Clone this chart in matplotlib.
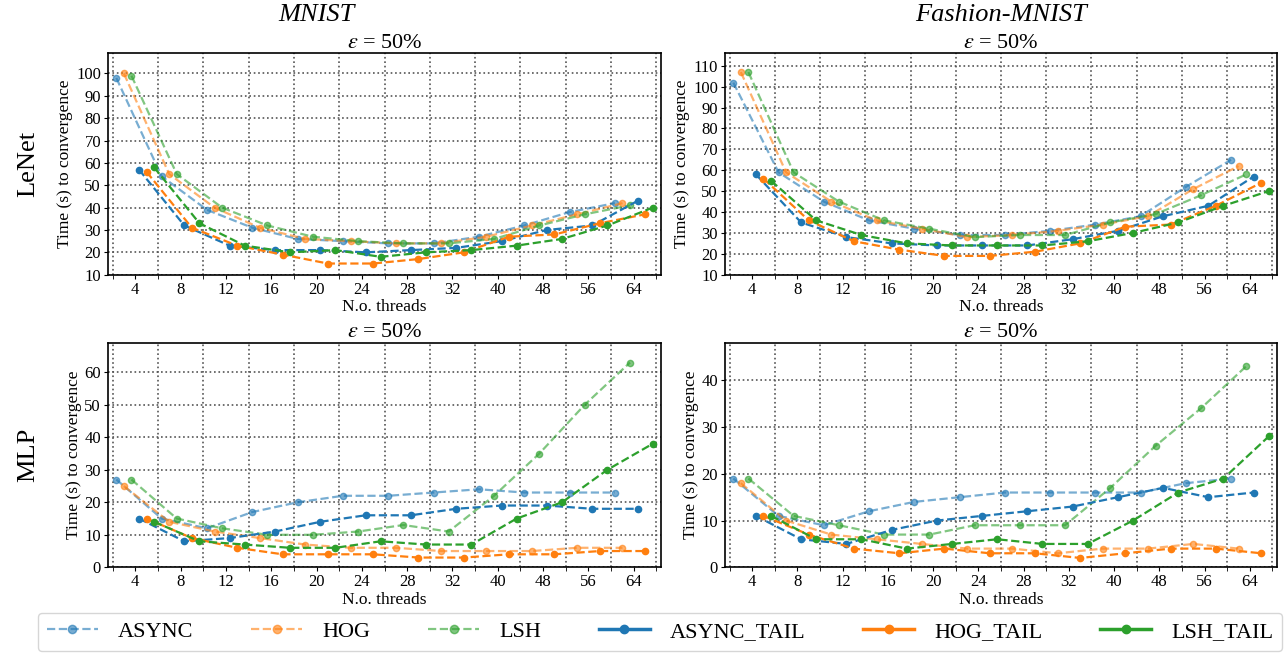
import matplotlib
matplotlib.use("Agg")
import matplotlib.pyplot as plt
from matplotlib.lines import Line2D
import numpy as np

plt.rcParams['font.family'] = ['Liberation Serif', 'DejaVu Serif']
plt.rcParams['mathtext.fontset'] = 'stix'

threads = ['4', '8', '12', '16', '20', '24', '28', '32', '40', '48', '56', '64']
series_names = ['ASYNC', 'HOG', 'LSH', 'ASYNC_TAIL', 'HOG_TAIL', 'LSH_TAIL']

# MNIST / LeNet
mnist_lenet_async = [98, 54, 39, 31, 26, 25, 24, 24, 27, 32, 38, 42]
mnist_lenet_hog = [100, 55, 40, 31, 26, 25, 24, 24, 27, 32, 37, 42]
mnist_lenet_lsh = [99, 55, 40, 32, 27, 25, 24, 24, 26, 32, 37, 41]
mnist_lenet_async_tail = [57, 32, 23, 21, 21, 20, 21, 22, 25, 30, 32, 43]
mnist_lenet_hog_tail = [56, 31, 23, 19, 15, 15, 17, 20, 27, 28, 33, 37]
mnist_lenet_lsh_tail = [58, 33, 23, 20, 21, 18, 20, 21, 23, 26, 32, 40]

# Fashion-MNIST / LeNet
fashion_lenet_async = [102, 59, 45, 36, 32, 29, 29, 31, 34, 38, 52, 65]
fashion_lenet_hog = [107, 59, 45, 36, 32, 28, 29, 31, 34, 38, 51, 62]
fashion_lenet_lsh = [107, 59, 45, 36, 32, 28, 29, 29, 35, 39, 48, 58]
fashion_lenet_async_tail = [58, 35, 28, 25, 24, 24, 24, 27, 31, 38, 43, 57]
fashion_lenet_hog_tail = [56, 36, 26, 22, 19, 19, 21, 25, 33, 34, 43, 54]
fashion_lenet_lsh_tail = [55, 36, 29, 25, 24, 24, 24, 26, 30, 35, 43, 50]

# MNIST / MLP
mnist_mlp_async = [27, 15, 12, 17, 20, 22, 22, 23, 24, 23, 23, 23]
mnist_mlp_hog = [25, 14, 11, 9, 7, 6, 6, 5, 5, 5, 6, 6]
mnist_mlp_lsh = [27, 15, 12, 10, 10, 11, 13, 11, 22, 35, 50, 63]
mnist_mlp_async_tail = [15, 8, 9, 11, 14, 16, 16, 18, 19, 19, 18, 18]
mnist_mlp_hog_tail = [15, 9, 6, 4, 4, 4, 3, 3, 4, 4, 5, 5]
mnist_mlp_lsh_tail = [14, 8, 7, 6, 6, 8, 7, 7, 15, 20, 30, 38]

# Fashion-MNIST / MLP
fashion_mlp_async = [19, 11, 9, 12, 14, 15, 16, 16, 16, 16, 18, 19]
fashion_mlp_hog = [18, 10, 7, 6, 5, 4, 4, 3, 4, 4, 5, 4]
fashion_mlp_lsh = [19, 11, 9, 7, 7, 9, 9, 9, 17, 26, 34, 43]
fashion_mlp_async_tail = [11, 6, 5, 8, 10, 11, 12, 13, 15, 17, 15, 16]
fashion_mlp_hog_tail = [11, 7, 4, 3, 4, 3, 3, 2, 3, 4, 4, 3]
fashion_mlp_lsh_tail = [11, 6, 6, 4, 5, 6, 5, 5, 10, 16, 19, 28]

panels = [
    [mnist_lenet_async, mnist_lenet_hog, mnist_lenet_lsh,
     mnist_lenet_async_tail, mnist_lenet_hog_tail, mnist_lenet_lsh_tail],
    [fashion_lenet_async, fashion_lenet_hog, fashion_lenet_lsh,
     fashion_lenet_async_tail, fashion_lenet_hog_tail, fashion_lenet_lsh_tail],
    [mnist_mlp_async, mnist_mlp_hog, mnist_mlp_lsh,
     mnist_mlp_async_tail, mnist_mlp_hog_tail, mnist_mlp_lsh_tail],
    [fashion_mlp_async, fashion_mlp_hog, fashion_mlp_lsh,
     fashion_mlp_async_tail, fashion_mlp_hog_tail, fashion_mlp_lsh_tail],
]
ylims = [(10, 109), (10, 116), (0, 69), (0, 48)]
yticks = [np.arange(10, 101, 10), np.arange(10, 111, 10),
          np.arange(0, 61, 10), np.arange(0, 41, 10)]

colors = ['#1f77b4', '#ff7f0e', '#2ca02c', '#1f77b4', '#ff7f0e', '#2ca02c']
alphas = [0.6, 0.6, 0.6, 1.0, 1.0, 1.0]
offsets = (np.arange(6) - 2.5) / 6.0

W, H = 1288, 655
fig = plt.figure(figsize=(W / 100, H / 100), dpi=100)

lefts = [108, 725]
rights = [661, 1277]
tops = [53.3, 343]
bottoms = [274.7, 567.3]

x = np.arange(len(threads))
for i in range(4):
    r, c = divmod(i, 2)
    ax = fig.add_axes([lefts[c] / W, 1 - bottoms[r] / H,
                       (rights[c] - lefts[c]) / W, (bottoms[r] - tops[r]) / H])
    for k in range(6):
        ax.plot(x + offsets[k], panels[i][k], linestyle='--', marker='o',
                color=colors[k], alpha=alphas[k], lw=1.6, markersize=4.5,
                zorder=3 + k)
    ax.set_xlim(-0.6, len(threads) - 0.4)
    ax.set_ylim(*ylims[i])
    ax.set_xticks(x)
    ax.set_xticklabels(threads)
    ax.set_xticks(np.arange(-0.5, len(threads), 1.0), minor=True)
    ax.set_yticks(yticks[i])
    ax.grid(True, which='minor', axis='x', linestyle=':', color='#555555', lw=1.2)
    ax.grid(True, which='major', axis='y', linestyle=':', color='#555555', lw=1.2)
    ax.tick_params(axis='both', which='major', labelsize=12, length=3, pad=2)
    ax.tick_params(axis='x', which='minor', length=3)
    ax.set_xlabel('N.o. threads', fontsize=12.5, labelpad=1)
    ax.set_ylabel('Time (s) to convergence', fontsize=12.5, labelpad=2)
    ax.set_title(r'$\epsilon$ = 50%', fontsize=16, pad=4)
    for s in ax.spines.values():
        s.set_linewidth(1.2)

fig.text(316 / W, 1 - 15 / H, 'MNIST', fontsize=19, style='italic',
         ha='center', va='center')
fig.text(1001 / W, 1 - 15 / H, 'Fashion-MNIST', fontsize=19, style='italic',
         ha='center', va='center')
fig.text(28 / W, 1 - 164 / H, 'LeNet', fontsize=19, rotation=90,
         ha='center', va='center')
fig.text(28 / W, 1 - 455 / H, 'MLP', fontsize=19, rotation=90,
         ha='center', va='center')

handles = []
for k in range(6):
    if k < 3:
        h = Line2D([], [], color=colors[k], alpha=0.6, linestyle='--',
                   marker='o', lw=1.6, markersize=6)
    else:
        h = Line2D([], [], color=colors[k], linestyle='-', marker='o',
                   lw=2.5, markersize=6)
    handles.append(h)
fig.legend(handles, series_names, loc='upper left',
           bbox_to_anchor=(38 / W, 0.0, 1244 / W, 1 - 612.7 / H),
           mode='expand', ncol=6, fontsize=16, borderaxespad=0,
           handlelength=2.3, handletextpad=0.9, frameon=True,
           edgecolor='#cccccc', fancybox=True)

fig.savefig('out.png', dpi=100)
